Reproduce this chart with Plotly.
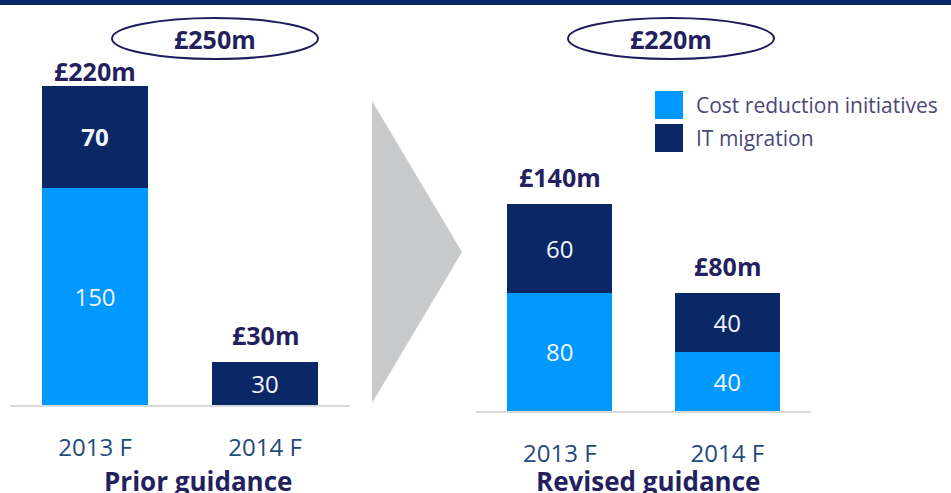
import plotly.graph_objects as go

# ---------------- data ----------------
categories = ["2013 F", "2014 F"]
prior_cost = [150, 0]
prior_it = [70, 30]
revised_cost = [80, 40]
revised_it = [60, 40]
series_names = ["Cost reduction initiatives", "IT migration"]
panel_titles = ["Prior guidance", "Revised guidance"]

# ---------------- style ----------------
W, H = 951, 493
LIGHT = "#0099ff"
NAVY = "#0a2865"
TXT = "#241f5e"
TICK = "#1f4b7d"
FONT = "Open Sans"


def X(px):
    return px / W


def Y(py):
    return 1 - py / H


fig = go.Figure()


def seg_text(vals, bold_idx=None):
    out = []
    for i, v in enumerate(vals):
        if not v:
            out.append("")
        elif bold_idx is not None and i == bold_idx:
            out.append(f"<b>{v}</b>")
        else:
            out.append(str(v))
    return out


panels = [
    ("x", "y", prior_cost, prior_it, 0),
    ("x2", "y2", revised_cost, revised_it, None),
]
for xa, ya, cost, it, bold in panels:
    for name, vals, col, b in [(series_names[0], cost, LIGHT, None),
                               (series_names[1], it, NAVY, bold)]:
        fig.add_trace(go.Bar(
            x=categories, y=vals, name=name, xaxis=xa, yaxis=ya,
            marker=dict(color=col, line=dict(width=0)),
            text=seg_text(vals, b), textposition="inside",
            insidetextanchor="middle", textangle=0, constraintext="none",
            insidetextfont=dict(family=FONT, size=24, color="#f2f5ff"),
            showlegend=False, hoverinfo="skip",
        ))

    # totals above bars
    for i, c in enumerate(categories):
        tot = cost[i] + it[i]
        fig.add_annotation(
            x=c, y=tot, xref=xa, yref=ya, xanchor="center", yanchor="bottom",
            showarrow=False, text=f"<b>£{tot}m</b>",
            yshift=(-4 if (xa == "x" and i == 0) else 8),
            font=dict(family=FONT, size=25, color=TXT),
        )

axis_common = dict(type="category", showgrid=False, zeroline=False,
                   showline=True, linecolor="#d9d9d9", linewidth=2,
                   ticks="", tickfont=dict(family=FONT, size=24, color=TICK),
                   ticklabelstandoff=20, fixedrange=True)
yaxis_common = dict(visible=False, range=[0, 250], fixedrange=True)

fig.update_layout(
    width=W, height=H,
    margin=dict(l=0, r=0, t=0, b=0),
    paper_bgcolor="white", plot_bgcolor="white",
    barmode="stack", bargap=0.375,
    xaxis=dict(domain=[X(10), X(350)], anchor="y", **axis_common),
    xaxis2=dict(domain=[X(476), X(811)], anchor="y2", **axis_common),
    yaxis=dict(domain=[Y(405), Y(42.5)], anchor="x", **yaxis_common),
    yaxis2=dict(domain=[Y(411), Y(41)], anchor="x2", **yaxis_common),
    showlegend=False,
)

# top band
fig.add_shape(type="rect", xref="paper", yref="paper",
              x0=0, x1=1, y0=Y(5), y1=1, fillcolor=NAVY, line_width=0)

# ellipses with overall totals
prior_total = sum(prior_cost) + sum(prior_it)
revised_total = sum(revised_cost) + sum(revised_it)
for (x0, x1), tot in [((112, 318), prior_total), ((568, 774), revised_total)]:
    fig.add_shape(type="circle", xref="paper", yref="paper",
                  x0=X(x0), x1=X(x1), y0=Y(59), y1=Y(18),
                  line=dict(color="#1f1d5c", width=2), fillcolor="rgba(0,0,0,0)")
    fig.add_annotation(x=X((x0 + x1) / 2), y=Y(39), xref="paper", yref="paper",
                       xanchor="center", yanchor="middle",
                       showarrow=False, text=f"<b>£{tot}m</b>",
                       font=dict(family=FONT, size=25, color=TXT))

# arrow chevron
fig.add_shape(type="path", xref="paper", yref="paper",
              path=f"M {X(372)},{Y(101)} L {X(462)},{Y(252)} L {X(372)},{Y(403)} Z",
              fillcolor="#c8c9cb", line_width=0)

# legend
for (py0, py1), col, name in [((91, 119), LIGHT, series_names[0]),
                              ((124, 152), NAVY, series_names[1])]:
    fig.add_shape(type="rect", xref="paper", yref="paper",
                  x0=X(655), x1=X(683), y0=Y(py1), y1=Y(py0),
                  fillcolor=col, line_width=0)
    fig.add_annotation(x=X(694), y=Y((py0 + py1) / 2), xref="paper", yref="paper",
                       xanchor="left", yanchor="middle", showarrow=False, text=name,
                       font=dict(family=FONT, size=21, color="#4a4878"))

# panel titles
for cx, t in [(197.5, panel_titles[0]), (648, panel_titles[1])]:
    fig.add_annotation(x=X(cx), y=Y(481), xref="paper", yref="paper",
                       xanchor="center", yanchor="middle",
                       showarrow=False, text=f"<b>{t}</b>",
                       font=dict(family=FONT, size=26, color=TXT))

fig.write_html("out.html", config={"displayModeBar": False},
               post_script="document.body.style.margin='0';")
